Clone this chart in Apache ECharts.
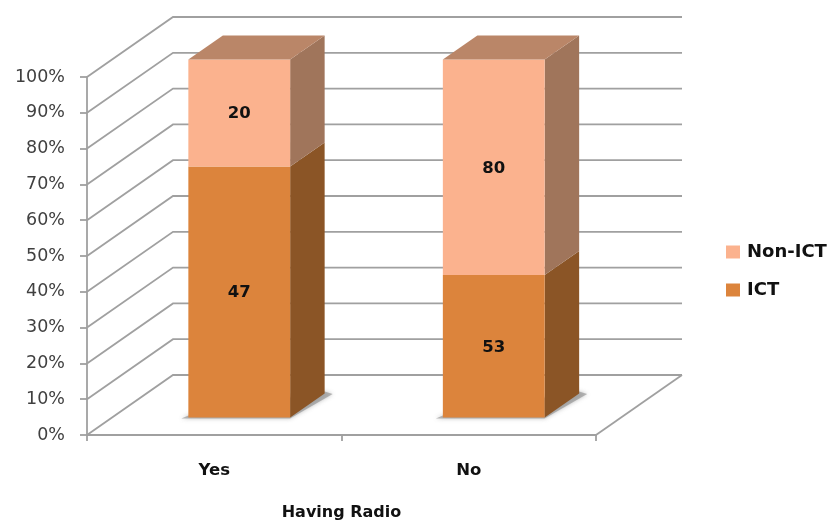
<!DOCTYPE html>
<html>
<head>
<meta charset="utf-8">
<style>html,body{margin:0;padding:0;background:#fff}#chart{width:829px;height:521px}</style>
<script src="https://cdn.jsdelivr.net/npm/echarts@6/dist/echarts.min.js"></script>
</head>
<body>
<div id="chart"></div>
<script>
// Share of respondents using ICT, split by radio ownership
const categories = ['Yes', 'No'];
const ictValues = [47, 53];
const nonIctValues = [20, 80];
const percentTicks = [0, 10, 20, 30, 40, 50, 60, 70, 80, 90, 100];

const FONT = '"DejaVu Sans", sans-serif';
const LINE = '#a0a0a0';
const LINE_WIDTH = 1.8;

// Oblique projection used for the box look
const WALL_DEPTH = [86, -60];
const BAR_INSET = [25, -17.4];
const BAR_DEPTH = [34.5, -24];
const BAR_RATIO = 0.4;

const ictStyle = { front: '#dc843c', side: '#8b5526', top: '#a96c38' };
const nonIctStyle = { front: '#fbb28e', side: '#a0755b', top: '#ba8668' };

function poly(points, fill, z2) {
  return { type: 'polygon', z2: z2 || 0, shape: { points }, style: { fill, stroke: null } };
}

// Back wall and floor rules, one per percent tick
function renderWall(params, api) {
  const box = params.coordSys;
  const y = api.coord([0, api.value(0)])[1];
  const left = box.x, right = box.x + box.width;
  const [dx, dy] = WALL_DEPTH;
  const children = [{
    type: 'polyline',
    shape: { points: [[left, y], [left + dx, y + dy], [right + dx, y + dy]] },
    style: { stroke: LINE, lineWidth: LINE_WIDTH, fill: null }
  }];
  if (api.value(0) === 0) {
    children.push({
      type: 'line',
      shape: { x1: right, y1: y, x2: right + dx, y2: y + dy },
      style: { stroke: LINE, lineWidth: LINE_WIDTH }
    });
  }
  return { type: 'group', children };
}

// One stacked block of a bar, with its front, side and top faces
function blockRenderer(palette, withTop) {
  return function (params, api) {
    const idx = api.value(0);
    const cx = api.coord([idx, 0])[0];
    const w = api.size([1, 0])[0] * BAR_RATIO;
    const x0 = cx - w / 2 + BAR_INSET[0], x1 = x0 + w;
    const yLow = api.coord([idx, api.value(1)])[1] + BAR_INSET[1];
    const yHigh = api.coord([idx, api.value(2)])[1] + BAR_INSET[1];
    const [dx, dy] = BAR_DEPTH;
    const children = [];
    if (api.value(1) === 0) {
      // Soft contact shadow on the floor
      children.push({
        type: 'polygon',
        shape: { points: [[x0 - 7, yLow + 1], [x1, yLow + 1], [x1 + dx + 8, yLow + dy + 0.5], [x1 + dx, yLow + dy - 2], [x0, yLow - 2]] },
        style: { fill: 'rgba(140,140,140,0.6)', shadowBlur: 4, shadowColor: 'rgba(110,110,110,0.7)' }
      });
    }
    children.push(poly([[x1, yLow], [x1 + dx, yLow + dy], [x1 + dx, yHigh + dy], [x1, yHigh]], palette.side));
    children.push(poly([[x0, yLow], [x1, yLow], [x1, yHigh], [x0, yHigh]], palette.front));
    if (withTop) {
      children.push(poly([[x0, yHigh], [x1, yHigh], [x1 + dx, yHigh + dy], [x0 + dx, yHigh + dy]], palette.top));
    }
    children.push({
      type: 'text',
      z2: 5,
      style: {
        x: (x0 + x1) / 2,
        y: (yLow + yHigh) / 2 + 1,
        text: String(api.value(3)),
        align: 'center',
        verticalAlign: 'middle',
        font: 'bold 16.5px ' + FONT,
        fill: '#111'
      }
    });
    return { type: 'group', children };
  };
}

// Each category is normalised to 100%
const totals = categories.map((_, i) => ictValues[i] + nonIctValues[i]);
const ictData = categories.map((_, i) => [i, 0, ictValues[i] / totals[i] * 100, ictValues[i]]);
const nonIctData = categories.map((_, i) => [i, ictValues[i] / totals[i] * 100, 100, nonIctValues[i]]);

const chart = echarts.init(document.getElementById('chart'), null, { renderer: 'canvas' });
chart.setOption({
  animation: false,
  backgroundColor: '#fff',
  grid: { left: 87, right: 233, top: 77, bottom: 86, containLabel: false, outerBoundsMode: 'none' },
  legend: {
    left: 726,
    top: 243,
    padding: 0,
    orient: 'vertical',
    data: ['Non-ICT', 'ICT'],
    icon: 'rect',
    itemWidth: 14,
    itemHeight: 13,
    itemGap: 20,
    textStyle: { fontFamily: FONT, fontWeight: 'bold', fontSize: 18, color: '#111', padding: [0, 0, 0, 2] }
  },
  xAxis: {
    type: 'category',
    data: categories,
    name: 'Having Radio',
    nameLocation: 'middle',
    nameGap: 70,
    nameTextStyle: { fontFamily: FONT, fontWeight: 'bold', fontSize: 16, color: '#111' },
    axisLine: { lineStyle: { color: LINE, width: LINE_WIDTH } },
    axisTick: { show: true, length: 6, lineStyle: { color: LINE, width: LINE_WIDTH } },
    axisLabel: { margin: 27, fontFamily: FONT, fontWeight: 'bold', fontSize: 16.5, color: '#111' }
  },
  yAxis: {
    type: 'value',
    min: 0,
    max: 100,
    interval: 10,
    axisLine: { show: true, lineStyle: { color: LINE, width: LINE_WIDTH } },
    axisTick: { show: true, length: 7, lineStyle: { color: LINE, width: LINE_WIDTH } },
    splitLine: { show: false },
    axisLabel: { margin: 22, padding: [4, 0, 0, 0], fontFamily: FONT, fontSize: 17.5, color: '#404040', formatter: '{value}%' }
  },
  series: [
    {
      type: 'custom',
      name: 'wall',
      silent: true,
      z: 1,
      renderItem: renderWall,
      data: percentTicks.map(v => [v]),
      encode: { y: 0 }
    },
    {
      type: 'custom',
      name: 'ICT',
      z: 2,
      itemStyle: { color: ictStyle.front },
      renderItem: blockRenderer(ictStyle, false),
      data: ictData,
      encode: { x: 0, y: 2 }
    },
    {
      type: 'custom',
      name: 'Non-ICT',
      z: 3,
      itemStyle: { color: nonIctStyle.front },
      renderItem: blockRenderer(nonIctStyle, true),
      data: nonIctData,
      encode: { x: 0, y: 2 }
    }
  ]
});
</script>
</body>
</html>
